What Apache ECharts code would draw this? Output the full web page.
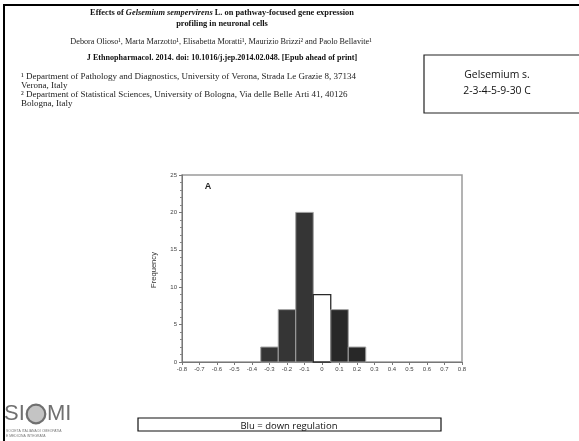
<!DOCTYPE html>
<html>
<head>
<meta charset="utf-8">
<script src="https://cdn.jsdelivr.net/npm/echarts@6/dist/echarts.min.js"></script>
<style>
html,body{margin:0;padding:0;background:#fff;}
#c{width:579px;height:441px;}
</style>
</head>
<body>
<div id="c"></div>
<script>
// ---- data ----
const binCenters = [-0.3, -0.2, -0.1, 0, 0.1, 0.2];
const frequencies = [2, 7, 20, 9, 7, 2];
const binWidth = 0.1;
const xTickMin = -0.8, xTickMax = 0.8, xTickStep = 0.1;
const yTickMin = 0, yTickMax = 25, yTickStep = 5;
const titleLine1 = ['Effects of ', 'Gelsemium sempervirens', ' L. on pathway-focused gene expression'];
const titleLine2 = 'profiling in neuronal cells';
const authors = 'Debora Olioso¹, Marta Marzotto¹, Elisabetta Moratti¹, Maurizio Brizzi² and Paolo Bellavite¹';
const journal = 'J Ethnopharmacol. 2014. doi: 10.1016/j.jep.2014.02.048. [Epub ahead of print]';
const affiliations = [
  '¹ Department of Pathology and Diagnostics, University of Verona, Strada Le Grazie 8, 37134',
  'Verona, Italy',
  '² Department of Statistical Sciences, University of Bologna, Via delle Belle Arti 41, 40126',
  'Bologna, Italy'
];
const boxLines = ['Gelsemium s.', '2-3-4-5-9-30 C'];
const noteText = 'Blu = down regulation';
const panelLabel = 'A';
const yAxisName = 'Frequency';

// ---- chart ----
const histData = binCenters.map((c, i) => [c - binWidth / 2, c + binWidth / 2, frequencies[i], c]);
function barFill(center) {
  if (Math.abs(center) < 1e-9) return '#ffffff';
  return center < 0 ? '#353535' : '#282828';
}
function fmt(v) {
  const s = Number(v).toFixed(1);
  if (s === '0.0' || s === '-0.0') return '0';
  return s;
}
const serif = '"Liberation Serif", "Times New Roman", serif';
const sans = '"Liberation Sans", Arial, sans-serif';
const calibri = '"Open Sans", "Liberation Sans", sans-serif';

const graphics = [
  // slide frame
  {type:'rect', shape:{x:3, y:4, width:600, height:2}, style:{fill:'#000'}},
  {type:'rect', shape:{x:3, y:4, width:2, height:450}, style:{fill:'#000'}},
  // title
  {type:'text', style:{x:222, y:13, align:'center', verticalAlign:'middle',
    text:'{b|' + titleLine1[0] + '}{bi|' + titleLine1[1] + '}{b|' + titleLine1[2] + '}',
    rich:{b:{font:'bold 8.4px ' + serif, fill:'#111'}, bi:{font:'italic bold 8.4px ' + serif, fill:'#111'}}}},
  {type:'text', style:{x:222, y:24, align:'center', verticalAlign:'middle', text:titleLine2, font:'bold 8.4px ' + serif, fill:'#111'}},
  {type:'text', style:{x:221, y:42, align:'center', verticalAlign:'middle', text:authors, font:'8.2px ' + serif, fill:'#222'}},
  {type:'text', style:{x:222, y:58, align:'center', verticalAlign:'middle', text:journal, font:'bold 8.1px ' + serif, fill:'#111'}},
  // box top-right
  {type:'rect', shape:{x:424, y:55, width:170, height:58}, style:{fill:'none', stroke:'#222', lineWidth:1.2}},
  {type:'text', style:{x:497, y:75, align:'center', verticalAlign:'middle', text:boxLines[0], font:'10.4px ' + calibri, fill:'#111'}},
  {type:'text', style:{x:497, y:91, align:'center', verticalAlign:'middle', text:boxLines[1], font:'10.4px ' + calibri, fill:'#111'}},
  // bottom note box
  {type:'rect', shape:{x:138, y:418, width:303, height:13}, style:{fill:'none', stroke:'#111', lineWidth:1.2}},
  {type:'text', style:{x:289, y:426, align:'center', verticalAlign:'middle', text:noteText, font:'9.5px ' + calibri, fill:'#111'}},
  // SIOMI logo text
  {type:'text', style:{x:4, y:414, align:'left', verticalAlign:'middle', text:'SI', font:'22px ' + sans, fill:'#707070'}},
  {type:'circle', shape:{cx:36, cy:414, r:9.3}, style:{fill:'#c4c4c4', stroke:'#707070', lineWidth:2.2}},
  {type:'text', style:{x:47, y:414, align:'left', verticalAlign:'middle', text:'MI', font:'22px ' + sans, fill:'#707070'}},
  {type:'text', style:{x:6, y:431, align:'left', verticalAlign:'middle', text:'SOCIETÀ ITALIANA DI OMEOPATIA', font:'3.4px ' + sans, fill:'#777'}},
  {type:'text', style:{x:6, y:436, align:'left', verticalAlign:'middle', text:'E MEDICINA INTEGRATA', font:'3.4px ' + sans, fill:'#777'}},
  // panel label
  {type:'text', style:{x:208, y:187, align:'center', verticalAlign:'middle', text:panelLabel, font:'bold 9px ' + sans, fill:'#222'}},
  // y axis name
  {type:'text', rotation:Math.PI/2, x:154, y:270, style:{x:0, y:0, align:'center', verticalAlign:'middle', text:yAxisName, font:'7.6px ' + sans, fill:'#333'}}
];
const affY = [77, 86, 95, 104];
affiliations.forEach((t, i) => {
  graphics.push({type:'text', style:{x:21, y:affY[i], align:'left', verticalAlign:'middle', text:t, font:'9px ' + serif, fill:'#222'}});
});

const chart = echarts.init(document.getElementById('c'), null, {renderer:'canvas'});
chart.setOption({
  animation:false,
  backgroundColor:'#fff',
  grid:{left:182, right:117, top:175, bottom:79, show:true, borderColor:'#9a9a9a', borderWidth:1.5, backgroundColor:'transparent'},
  xAxis:{type:'value', min:xTickMin, max:xTickMax, interval:xTickStep,
    axisLine:{show:true, onZero:false, lineStyle:{color:'#777', width:1}},
    axisTick:{show:true, length:3, lineStyle:{color:'#777'}},
    axisLabel:{formatter:fmt, fontSize:6, color:'#444', margin:4, fontFamily:sans},
    splitLine:{show:false}},
  yAxis:{type:'value', min:yTickMin, max:yTickMax, interval:yTickStep,
    axisLine:{show:true, onZero:false, lineStyle:{color:'#777', width:1}},
    axisTick:{show:true, length:3, lineStyle:{color:'#777'}},
    minorTick:{show:true, splitNumber:5, length:2, lineStyle:{color:'#888'}},
    axisLabel:{fontSize:6, color:'#444', margin:5, fontFamily:sans},
    splitLine:{show:false}},
  series:[{
    type:'custom',
    data:histData,
    encode:{x:[0,1], y:2},
    renderItem:function(params, api){
      const x0 = api.value(0), x1 = api.value(1), f = api.value(2), c = api.value(3);
      const pTop = api.coord([x0, f]);
      const pBot = api.coord([x1, 0]);
      const white = Math.abs(c) < 1e-9;
      return {type:'rect',
        shape:{x:pTop[0], y:pTop[1], width:pBot[0]-pTop[0], height:pBot[1]-pTop[1]},
        style:{fill:barFill(c), stroke: white ? '#2a2a2a' : '#a0a0a0', lineWidth: white ? 1.3 : 1}};
    }
  }],
  graphic:graphics
});
</script>
</body>
</html>
